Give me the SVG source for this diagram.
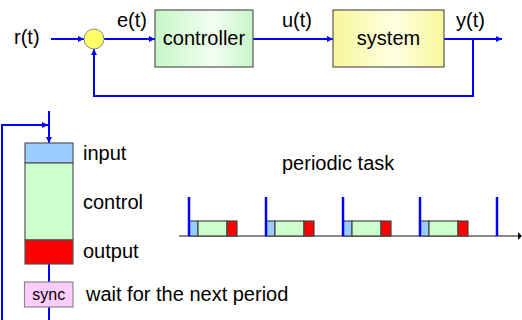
<svg xmlns="http://www.w3.org/2000/svg" width="522" height="320" viewBox="0 0 522 320">
<style>
text{font-family:"Liberation Sans",Arial,sans-serif;font-size:20px;fill:#000}
.w{stroke:#0000ff;stroke-width:2;fill:none}
.box{stroke:#555;stroke-width:1.2}
.tb{stroke:#444;stroke-width:1.2}
.in{fill:#99ccff}.ct{fill:#ccffcc}.out{fill:#ff0000}
.tick{stroke:#0000ff;stroke-width:2.5}
</style>
<defs>
<marker id="ah" viewBox="0 0 10 10" refX="10" refY="5" markerWidth="9" markerHeight="6" markerUnits="userSpaceOnUse" orient="auto"><path d="M0,0 L10,5 L0,10 z" fill="#0000ff"/></marker>
<linearGradient id="gG" x1="0" y1="0" x2="1" y2="0"><stop offset="0" stop-color="#c6f6c6"/><stop offset="0.6" stop-color="#f3fff3"/><stop offset="1" stop-color="#c6f6c6"/></linearGradient>
<linearGradient id="gY" x1="0" y1="0" x2="1" y2="0"><stop offset="0" stop-color="#f7f79a"/><stop offset="0.55" stop-color="#ffffe2"/><stop offset="1" stop-color="#f7f79a"/></linearGradient>
</defs>
<g id="connectors">
<line class="w" x1="51" y1="39" x2="84" y2="39" marker-end="url(#ah)"/>
<line class="w" x1="104" y1="39" x2="155" y2="39" marker-end="url(#ah)"/>
<line class="w" x1="253" y1="39" x2="333" y2="39" marker-end="url(#ah)"/>
<line class="w" x1="444" y1="39" x2="502" y2="39" marker-end="url(#ah)"/>
<polyline class="w" points="473,39 473,96 94,96 94,49" marker-end="url(#ah)"/>
<polyline class="w" points="2,320 2,125 48,125" marker-end="url(#ah)"/>
<line class="w" x1="49" y1="111" x2="49" y2="143" marker-end="url(#ah)"/>
<line class="w" x1="49" y1="264" x2="49" y2="282"/>
<line class="w" x1="49" y1="307" x2="49" y2="320"/>
</g>
<g id="labels">
<text x="14" y="44">r(t)</text>
<text x="117" y="27">e(t)</text>
<text x="282" y="27">u(t)</text>
<text x="456" y="27">y(t)</text>
</g>
<g id="sum"><circle cx="94" cy="39" r="10" fill="#ffff66" stroke="#888" stroke-width="1"/></g>
<g id="controller"><rect class="box" x="155" y="10" width="98" height="57" fill="url(#gG)"/><text x="204" y="45" text-anchor="middle">controller</text></g>
<g id="system"><rect class="box" x="333" y="10" width="111" height="57" fill="url(#gY)"/><text x="388.5" y="45" text-anchor="middle">system</text></g>
<g id="task">
<rect class="box in" x="25" y="143" width="48" height="20"/>
<rect class="box ct" x="25" y="163" width="48" height="77"/>
<rect class="box out" x="25" y="240" width="48" height="24"/>
<text x="83" y="160">input</text>
<text x="83" y="209">control</text>
<text x="83" y="258">output</text>
</g>
<g id="sync"><rect x="24.5" y="282" width="48.5" height="25" fill="#ffccff" stroke="#888" stroke-width="1.2"/><text x="48.75" y="300" text-anchor="middle" style="font-size:16px">sync</text><text x="86" y="301">wait for the next period</text></g>
<g id="timeline">
<text x="282" y="170">periodic task</text>
<line x1="179" y1="236" x2="519" y2="236" stroke="#888" stroke-width="2"/>
<path d="M518,232 L522,236 L518,240 z" fill="#111"/>
<g id="j1"><rect class="tb in" x="189" y="221" width="9" height="15"/><rect class="tb ct" x="198" y="221" width="29" height="15"/><rect class="tb out" x="227" y="221" width="10" height="15"/></g>
<g id="j2"><rect class="tb in" x="266" y="221" width="9" height="15"/><rect class="tb ct" x="275" y="221" width="29" height="15"/><rect class="tb out" x="304" y="221" width="10" height="15"/></g>
<g id="j3"><rect class="tb in" x="343" y="221" width="9" height="15"/><rect class="tb ct" x="352" y="221" width="29" height="15"/><rect class="tb out" x="381" y="221" width="10" height="15"/></g>
<g id="j4"><rect class="tb in" x="420" y="221" width="9" height="15"/><rect class="tb ct" x="429" y="221" width="29" height="15"/><rect class="tb out" x="458" y="221" width="10" height="15"/></g>
<line class="tick" x1="189" y1="197" x2="189" y2="236"/>
<line class="tick" x1="266" y1="197" x2="266" y2="236"/>
<line class="tick" x1="343" y1="197" x2="343" y2="236"/>
<line class="tick" x1="420" y1="197" x2="420" y2="236"/>
<line class="tick" x1="497" y1="197" x2="497" y2="236"/>
</g>
</svg>
